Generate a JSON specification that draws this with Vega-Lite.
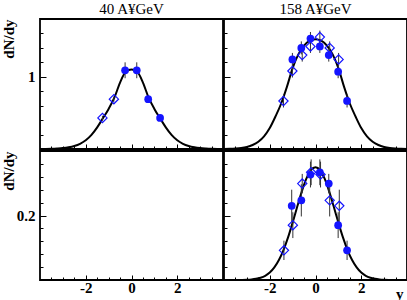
{
  "$schema": "https://vega.github.io/schema/vega-lite/v6.json",
  "padding": {"left": 0, "top": 1, "right": 0, "bottom": 0},
  "spacing": -4,
  "config": {
    "view": {"stroke": "black", "strokeWidth": 1.8},
    "font": "Liberation Serif",
    "axis": {"domain": false, "grid": false, "tickColor": "black", "tickWidth": 1, "minExtent": 0,
      "labelFont": "Liberation Serif", "labelFontWeight": "bold", "labelFontSize": 15, "labelColor": "black",
      "titleFont": "Liberation Serif", "titleFontWeight": "bold", "titleFontSize": 15, "titleColor": "black",
      "labelOverlap": false, "labelFlush": false},
    "title": {"font": "Liberation Serif", "fontSize": 15, "fontWeight": "normal", "color": "black", "offset": 2}
  },
  "datasets": {
    "pts": [
      {"p":"TL","t":"f","rap":-0.28,"v":1.09,"e":0.11},
      {"p":"TL","t":"f","rap":0.23,"v":1.09,"e":0.11},
      {"p":"TL","t":"f","rap":0.73,"v":0.69,"e":0.035},
      {"p":"TL","t":"f","rap":1.25,"v":0.43,"e":0.03},
      {"p":"TL","t":"o","rap":-0.77,"v":0.69,"e":0.035},
      {"p":"TL","t":"o","rap":-1.27,"v":0.43,"e":0.03},
      {"p":"TR","t":"f","rap":-1.01,"v":1.24,"e":0.09},
      {"p":"TR","t":"f","rap":-0.62,"v":1.40,"e":0.09},
      {"p":"TR","t":"f","rap":-0.22,"v":1.53,"e":0.09},
      {"p":"TR","t":"f","rap":0.19,"v":1.42,"e":0.09},
      {"p":"TR","t":"f","rap":0.58,"v":1.30,"e":0.09},
      {"p":"TR","t":"f","rap":0.99,"v":1.07,"e":0.09},
      {"p":"TR","t":"f","rap":1.38,"v":0.665,"e":0.09},
      {"p":"TR","t":"o","rap":-1.40,"v":0.665,"e":0.09},
      {"p":"TR","t":"o","rap":-1.01,"v":1.08,"e":0.09},
      {"p":"TR","t":"o","rap":-0.58,"v":1.30,"e":0.09},
      {"p":"TR","t":"o","rap":-0.22,"v":1.42,"e":0.09},
      {"p":"TR","t":"o","rap":0.19,"v":1.55,"e":0.09},
      {"p":"TR","t":"o","rap":0.62,"v":1.40,"e":0.09},
      {"p":"TR","t":"o","rap":1.01,"v":1.24,"e":0.09},
      {"p":"BR","t":"f","rap":-1.04,"v":0.230,"e":0.05},
      {"p":"BR","t":"f","rap":-0.62,"v":0.247,"e":0.05},
      {"p":"BR","t":"f","rap":-0.22,"v":0.327,"e":0.04},
      {"p":"BR","t":"f","rap":0.19,"v":0.334,"e":0.04},
      {"p":"BR","t":"f","rap":0.58,"v":0.299,"e":0.03},
      {"p":"BR","t":"f","rap":0.99,"v":0.170,"e":0.04},
      {"p":"BR","t":"f","rap":1.38,"v":0.092,"e":0.03},
      {"p":"BR","t":"o","rap":-1.38,"v":0.092,"e":0.03},
      {"p":"BR","t":"o","rap":-0.99,"v":0.170,"e":0.04},
      {"p":"BR","t":"o","rap":-0.58,"v":0.299,"e":0.03},
      {"p":"BR","t":"o","rap":-0.19,"v":0.334,"e":0.04},
      {"p":"BR","t":"o","rap":0.22,"v":0.327,"e":0.04},
      {"p":"BR","t":"o","rap":0.62,"v":0.247,"e":0.05},
      {"p":"BR","t":"o","rap":1.04,"v":0.230,"e":0.05}
    ],
    "curve": [
      {"p":"TL","rap":-4,"v":0.0005},{"p":"TL","rap":-3.75,"v":0.001},{"p":"TL","rap":-3.5,"v":0.003},{"p":"TL","rap":-3.25,"v":0.007},
      {"p":"TL","rap":-3,"v":0.013},{"p":"TL","rap":-2.75,"v":0.024},{"p":"TL","rap":-2.5,"v":0.042},{"p":"TL","rap":-2.25,"v":0.072},
      {"p":"TL","rap":-2,"v":0.12},{"p":"TL","rap":-1.75,"v":0.195},{"p":"TL","rap":-1.5,"v":0.30},{"p":"TL","rap":-1.25,"v":0.425},
      {"p":"TL","rap":-1,"v":0.555},{"p":"TL","rap":-0.75,"v":0.71},{"p":"TL","rap":-0.5,"v":0.92},{"p":"TL","rap":-0.25,"v":1.07},
      {"p":"TL","rap":0,"v":1.10},
      {"p":"TL","rap":0.25,"v":1.07},{"p":"TL","rap":0.5,"v":0.92},{"p":"TL","rap":0.75,"v":0.71},{"p":"TL","rap":1,"v":0.555},
      {"p":"TL","rap":1.25,"v":0.425},{"p":"TL","rap":1.5,"v":0.30},{"p":"TL","rap":1.75,"v":0.195},{"p":"TL","rap":2,"v":0.12},
      {"p":"TL","rap":2.25,"v":0.072},{"p":"TL","rap":2.5,"v":0.042},{"p":"TL","rap":2.75,"v":0.024},{"p":"TL","rap":3,"v":0.013},
      {"p":"TL","rap":3.25,"v":0.007},{"p":"TL","rap":3.5,"v":0.003},{"p":"TL","rap":3.75,"v":0.001},{"p":"TL","rap":4,"v":0.0005},
      {"p":"TR","rap":-4,"v":0.001},{"p":"TR","rap":-3.75,"v":0.0025},{"p":"TR","rap":-3.5,"v":0.006},{"p":"TR","rap":-3.25,"v":0.013},
      {"p":"TR","rap":-3,"v":0.028},{"p":"TR","rap":-2.75,"v":0.055},{"p":"TR","rap":-2.5,"v":0.10},{"p":"TR","rap":-2.25,"v":0.175},
      {"p":"TR","rap":-2,"v":0.29},{"p":"TR","rap":-1.75,"v":0.45},{"p":"TR","rap":-1.5,"v":0.63},{"p":"TR","rap":-1.25,"v":0.86},
      {"p":"TR","rap":-1,"v":1.12},{"p":"TR","rap":-0.75,"v":1.31},{"p":"TR","rap":-0.5,"v":1.43},{"p":"TR","rap":-0.25,"v":1.50},
      {"p":"TR","rap":0,"v":1.52},
      {"p":"TR","rap":0.25,"v":1.50},{"p":"TR","rap":0.5,"v":1.43},{"p":"TR","rap":0.75,"v":1.31},{"p":"TR","rap":1,"v":1.12},
      {"p":"TR","rap":1.25,"v":0.86},{"p":"TR","rap":1.5,"v":0.63},{"p":"TR","rap":1.75,"v":0.45},{"p":"TR","rap":2,"v":0.29},
      {"p":"TR","rap":2.25,"v":0.175},{"p":"TR","rap":2.5,"v":0.10},{"p":"TR","rap":2.75,"v":0.055},{"p":"TR","rap":3,"v":0.028},
      {"p":"TR","rap":3.25,"v":0.013},{"p":"TR","rap":3.5,"v":0.006},{"p":"TR","rap":3.75,"v":0.0025},{"p":"TR","rap":4,"v":0.001},
      {"p":"BR","rap":-4,"v":0},{"p":"BR","rap":-3.6,"v":0},{"p":"BR","rap":-3.4,"v":0.0001},{"p":"BR","rap":-3.2,"v":0.0003},
      {"p":"BR","rap":-3,"v":0.0008},{"p":"BR","rap":-2.8,"v":0.0017},{"p":"BR","rap":-2.6,"v":0.0036},{"p":"BR","rap":-2.4,"v":0.0071},
      {"p":"BR","rap":-2.2,"v":0.013},{"p":"BR","rap":-2,"v":0.023},{"p":"BR","rap":-1.8,"v":0.039},{"p":"BR","rap":-1.6,"v":0.062},
      {"p":"BR","rap":-1.4,"v":0.093},{"p":"BR","rap":-1.2,"v":0.132},{"p":"BR","rap":-1,"v":0.178},{"p":"BR","rap":-0.8,"v":0.227},
      {"p":"BR","rap":-0.6,"v":0.274},{"p":"BR","rap":-0.4,"v":0.314},{"p":"BR","rap":-0.2,"v":0.341},{"p":"BR","rap":0,"v":0.350},
      {"p":"BR","rap":0.2,"v":0.341},{"p":"BR","rap":0.4,"v":0.314},{"p":"BR","rap":0.6,"v":0.274},{"p":"BR","rap":0.8,"v":0.227},
      {"p":"BR","rap":1,"v":0.178},{"p":"BR","rap":1.2,"v":0.132},{"p":"BR","rap":1.4,"v":0.093},{"p":"BR","rap":1.6,"v":0.062},
      {"p":"BR","rap":1.8,"v":0.039},{"p":"BR","rap":2,"v":0.023},{"p":"BR","rap":2.2,"v":0.013},{"p":"BR","rap":2.4,"v":0.0071},
      {"p":"BR","rap":2.6,"v":0.0036},{"p":"BR","rap":2.8,"v":0.0017},{"p":"BR","rap":3,"v":0.0008},{"p":"BR","rap":3.2,"v":0.0003},
      {"p":"BR","rap":3.4,"v":0.0001},{"p":"BR","rap":3.6,"v":0},{"p":"BR","rap":4,"v":0}
    ]
  },
  "vconcat": [
    {"spacing": -4, "hconcat": [
      {
        "width": 183, "height": 130,
        "title": "40 A¥GeV",
        "data": {"name": "pts"},
        "transform": [{"filter": "datum.p === 'TL'"}],
        "encoding": {
          "x": {"field": "rap", "type": "quantitative", "scale": {"domain": [-4, 4], "nice": false, "zero": false},
            "axis": {"values": [-3.5,-3,-2.5,-2,-1.5,-1,-0.5,0,0.5,1,1.5,2,2.5,3,3.5], "labels": false, "title": null,
              "tickSize": {"condition": {"test": "datum.value % 2 === 0", "value": -5}, "value": -3}}},
          "y": {"field": "v", "type": "quantitative", "scale": {"domain": [0, 1.8], "nice": false, "zero": false},
            "axis": {"values": [0.2,0.4,0.6,0.8,1,1.2,1.4,1.6], "labelExpr": "abs(datum.value - 1) < 0.001 ? '1' : ''",
              "tickSize": {"condition": {"test": "abs(datum.value - 1) < 0.001", "value": -6}, "value": -3}, "labelPadding": 11,
              "title": "dN/dy", "titleX": -27, "titleY": 0, "titleAngle": -90, "titleAlign": "right", "titleBaseline": "alphabetic"}}
        },
        "layer": [
          {"data": {"name": "curve"}, "transform": [{"filter": "datum.p === 'TL'"}],
           "mark": {"type": "line", "color": "black", "strokeWidth": 2, "interpolate": "monotone", "clip": true}},
          {"mark": {"type": "errorbar", "color": "#333333", "thickness": 1, "ticks": false}, "encoding": {"yError": {"field": "e"}}},
          {"transform": [{"filter": "datum.t === 'o'"}], "mark": {"type": "point", "shape": "diamond", "size": 85, "filled": false, "color": "#1414ff", "strokeWidth": 1.2, "opacity": 1}},
          {"transform": [{"filter": "datum.t === 'f'"}], "mark": {"type": "point", "shape": "circle", "size": 60, "filled": true, "color": "#1414ff", "opacity": 1}},
          {"data": {"values": [{"label": "Ξ"}]}, "mark": {"type": "text", "font": "Liberation Serif", "fontSize": 10, "color": "black", "align": "center", "baseline": "middle"},
           "encoding": {"x": {"datum": -3.41}, "y": {"datum": 1.46}, "text": {"field": "label"}}}
        ]
      },
      {
        "width": 183, "height": 130,
        "title": "158 A¥GeV",
        "data": {"name": "pts"},
        "transform": [{"filter": "datum.p === 'TR'"}],
        "encoding": {
          "x": {"field": "rap", "type": "quantitative", "scale": {"domain": [-4, 4], "nice": false, "zero": false},
            "axis": {"values": [-3.5,-3,-2.5,-2,-1.5,-1,-0.5,0,0.5,1,1.5,2,2.5,3,3.5], "labels": false, "title": null,
              "tickSize": {"condition": {"test": "datum.value % 2 === 0", "value": -5}, "value": -3}}},
          "y": {"field": "v", "type": "quantitative", "scale": {"domain": [0, 1.8], "nice": false, "zero": false},
            "axis": {"values": [0.2,0.4,0.6,0.8,1,1.2,1.4,1.6], "labels": false, "title": null,
              "tickSize": {"condition": {"test": "abs(datum.value - 1) < 0.001", "value": -6}, "value": -3}}}
        },
        "layer": [
          {"data": {"name": "curve"}, "transform": [{"filter": "datum.p === 'TR'"}],
           "mark": {"type": "line", "color": "black", "strokeWidth": 2, "interpolate": "monotone", "clip": true}},
          {"mark": {"type": "errorbar", "color": "#333333", "thickness": 1, "ticks": false}, "encoding": {"yError": {"field": "e"}}},
          {"transform": [{"filter": "datum.t === 'o'"}], "mark": {"type": "point", "shape": "diamond", "size": 85, "filled": false, "color": "#1414ff", "strokeWidth": 1.2, "opacity": 1}},
          {"transform": [{"filter": "datum.t === 'f'"}], "mark": {"type": "point", "shape": "circle", "size": 60, "filled": true, "color": "#1414ff", "opacity": 1}}
        ]
      }
    ]},
    {"spacing": -4, "hconcat": [
      {
        "width": 183, "height": 129,
        "data": {"name": "pts"},
        "transform": [{"filter": "datum.p === 'BL'"}],
        "encoding": {
          "x": {"field": "rap", "type": "quantitative", "scale": {"domain": [-4, 4], "nice": false, "zero": false},
            "axis": {"values": [-3.5,-3,-2.5,-2,-1.5,-1,-0.5,0,0.5,1,1.5,2,2.5,3,3.5], "title": null,
              "labelExpr": "datum.value === -2 ? '-2' : datum.value === 0 ? '0' : datum.value === 2 ? '2' : ''", "labelPadding": 5,
              "tickSize": {"condition": {"test": "datum.value % 2 === 0", "value": -5}, "value": -3}}},
          "y": {"field": "v", "type": "quantitative", "scale": {"domain": [0, 0.4], "nice": false, "zero": false},
            "axis": {"values": [0.04,0.08,0.12,0.16,0.2,0.24,0.28,0.32,0.36], "labelExpr": "abs(datum.value - 0.2) < 0.001 ? '0.2' : ''",
              "tickSize": {"condition": {"test": "abs(datum.value - 0.2) < 0.001", "value": -6}, "value": -3}, "labelPadding": 11,
              "title": "dN/dy", "titleX": -27, "titleY": 0, "titleAngle": -90, "titleAlign": "right", "titleBaseline": "alphabetic"}}
        },
        "layer": [
          {"mark": {"type": "point", "shape": "circle", "size": 60, "filled": true, "color": "#1414ff"}},
          {"data": {"values": [{"label": "Ξ̄"}]}, "mark": {"type": "text", "font": "Liberation Serif", "fontSize": 10, "color": "black", "align": "center", "baseline": "middle"},
           "encoding": {"x": {"datum": -3.38}, "y": {"datum": 0.33}, "text": {"field": "label"}}}
        ]
      },
      {
        "width": 183, "height": 129,
        "data": {"name": "pts"},
        "transform": [{"filter": "datum.p === 'BR'"}],
        "encoding": {
          "x": {"field": "rap", "type": "quantitative", "scale": {"domain": [-4, 4], "nice": false, "zero": false},
            "axis": {"values": [-3.5,-3,-2.5,-2,-1.5,-1,-0.5,0,0.5,1,1.5,2,2.5,3,3.5],
              "labelExpr": "datum.value === -2 ? '-2' : datum.value === 0 ? '0' : datum.value === 2 ? '2' : ''", "labelPadding": 5,
              "tickSize": {"condition": {"test": "datum.value % 2 === 0", "value": -5}, "value": -3},
              "title": "y", "titleAnchor": "end", "titleAlign": "right", "titleX": 179, "titleY": 18, "titleBaseline": "alphabetic"}},
          "y": {"field": "v", "type": "quantitative", "scale": {"domain": [0, 0.4], "nice": false, "zero": false},
            "axis": {"values": [0.04,0.08,0.12,0.16,0.2,0.24,0.28,0.32,0.36], "labels": false, "title": null,
              "tickSize": {"condition": {"test": "abs(datum.value - 0.2) < 0.001", "value": -6}, "value": -3}}}
        },
        "layer": [
          {"data": {"name": "curve"}, "transform": [{"filter": "datum.p === 'BR'"}],
           "mark": {"type": "line", "color": "black", "strokeWidth": 2, "interpolate": "monotone", "clip": true}},
          {"mark": {"type": "errorbar", "color": "#333333", "thickness": 1, "ticks": false}, "encoding": {"yError": {"field": "e"}}},
          {"transform": [{"filter": "datum.t === 'o'"}], "mark": {"type": "point", "shape": "diamond", "size": 85, "filled": false, "color": "#1414ff", "strokeWidth": 1.2, "opacity": 1}},
          {"transform": [{"filter": "datum.t === 'f'"}], "mark": {"type": "point", "shape": "circle", "size": 60, "filled": true, "color": "#1414ff", "opacity": 1}}
        ]
      }
    ]}
  ]
}
